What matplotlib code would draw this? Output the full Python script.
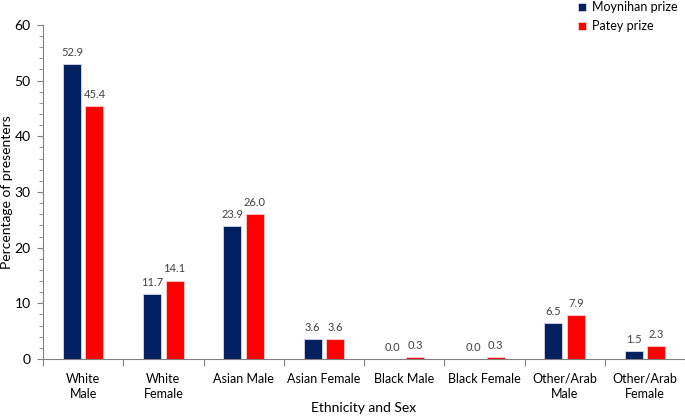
import matplotlib
matplotlib.use("Agg")
import matplotlib.pyplot as plt
import numpy as np
from matplotlib.ticker import MultipleLocator, FixedLocator, NullFormatter

categories = ["White\nMale", "White\nFemale", "Asian Male", "Asian Female",
              "Black Male", "Black Female", "Other/Arab\nMale", "Other/Arab\nFemale"]
moynihan = [52.9, 11.7, 23.9, 3.6, 0.0, 0.0, 6.5, 1.5]
patey = [45.4, 14.1, 26.0, 3.6, 0.3, 0.3, 7.9, 2.3]

plt.rcParams['font.family'] = ['Lato', 'DejaVu Sans']

fig = plt.figure(figsize=(6.85, 4.16), dpi=100)
ax = fig.add_axes([0.0628, 0.137, 0.9372, 0.803])

x = np.arange(len(categories))
w = 0.225
off = 0.14
b1 = ax.bar(x - off, moynihan, w, color='#002060', edgecolor='#d9d9e6', linewidth=0.6, label='Moynihan prize')
b2 = ax.bar(x + off, patey, w, color='#FF0000', edgecolor='#ffd0d0', linewidth=0.6, label='Patey prize')

for rects, vals in ((b1, moynihan), (b2, patey)):
    for r, v in zip(rects, vals):
        ax.text(r.get_x() + r.get_width() / 2, v + 1.1, f"{v:.1f}", ha='center', va='bottom',
                fontsize=8, color='#404040')

ax.set_xlim(-0.5, len(categories) - 0.5)
ax.set_ylim(0, 60)
ax.yaxis.set_major_locator(MultipleLocator(10))
ax.yaxis.set_minor_locator(MultipleLocator(2))
ax.xaxis.set_major_locator(FixedLocator(np.arange(-0.5, len(categories), 1.0)))
ax.xaxis.set_major_formatter(NullFormatter())
ax.xaxis.set_minor_locator(FixedLocator(x))
ax.set_xticklabels(categories, minor=True, linespacing=1.35)
ax.tick_params(axis='x', which='minor', length=0, labelsize=9, pad=10)
ax.tick_params(axis='x', which='major', length=5, direction='out', color='#808080')
ax.tick_params(axis='y', which='major', length=4, direction='out', labelsize=10, color='#808080', pad=5)
ax.tick_params(axis='y', which='minor', length=3, direction='out', color='#808080')

for s in ['top', 'right']:
    ax.spines[s].set_visible(False)
for s in ['left', 'bottom']:
    ax.spines[s].set_color('#808080')

fig.text(7 / 685, 0.5 * (0.137 + 0.94), 'Percentage of presenters', rotation=90,
         ha='center', va='center', fontsize=10)
fig.text((43 + 642 / 2) / 685, 1 - 408 / 416, 'Ethnicity and Sex', ha='center', va='center', fontsize=10)

fig.legend(handles=[b1, b2], loc='upper left', bbox_to_anchor=(0.842, 1.0), frameon=False, fontsize=9,
           handlelength=0.6, handleheight=0.6, handletextpad=0.5, labelspacing=0.55,
           borderaxespad=0.0, borderpad=0.1)

fig.savefig('out.png', dpi=100)
